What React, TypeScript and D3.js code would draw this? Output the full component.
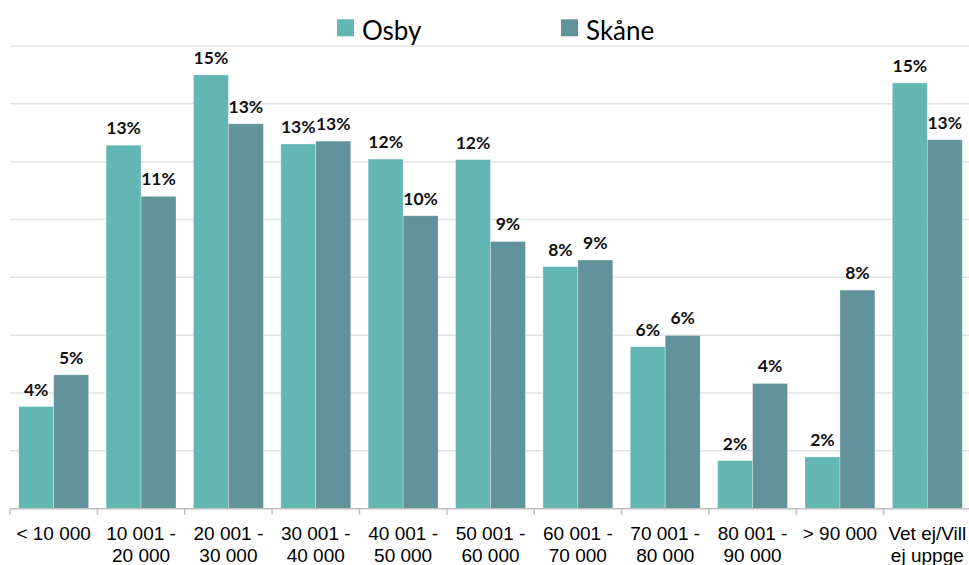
import React, { useEffect, useRef } from 'react';
import * as d3 from 'd3';

const categories = [
  '< 10 000', '10 001 -\n20 000', '20 001 -\n30 000', '30 001 -\n40 000', '40 001 -\n50 000',
  '50 001 -\n60 000', '60 001 -\n70 000', '70 001 -\n80 000', '80 001 -\n90 000', '> 90 000',
  'Vet ej/Vill\nej uppge'
];
const osby = [0.0353, 0.1257, 0.150, 0.1261, 0.1209, 0.1207, 0.0837, 0.056, 0.0166, 0.0179, 0.1472];
const skane = [0.0463, 0.108, 0.1331, 0.1271, 0.1013, 0.0924, 0.086, 0.0599, 0.0433, 0.0756, 0.1276];
const seriesNames = ['Osby', 'Skåne'];
const colors = ['#62B7B4', '#62939D'];
const gridTicks = [0.02, 0.04, 0.06, 0.08, 0.10, 0.12, 0.14, 0.16];

export default function App() {
  const ref = useRef<SVGSVGElement>(null);

  useEffect(() => {
    const svg = d3.select(ref.current);
    svg.selectAll('*').remove();

    const left = 10, right = 971, base = 508.7, top = 46;

    const x = d3.scaleBand().domain(categories).range([left, right])
      .paddingInner(0.2).paddingOuter(0.1);
    const xs = d3.scaleBand().domain(seriesNames).range([0, x.bandwidth()]);
    const y = d3.scaleLinear().domain([0, 0.16]).range([base, top]);
    const fmt = d3.format('.0%');

    // gridlines
    svg.append('g').selectAll('line').data(gridTicks).join('line')
      .attr('x1', left).attr('x2', 969)
      .attr('y1', d => y(d)).attr('y2', d => y(d))
      .attr('stroke', '#E2E2E2').attr('stroke-width', 1.5);

    const series = [osby, skane];
    series.forEach((vals, si) => {
      const g = svg.append('g');
      g.selectAll('rect').data(vals).join('rect')
        .attr('x', (d, i) => x(categories[i])! + xs(seriesNames[si])!)
        .attr('y', d => y(d))
        .attr('width', xs.bandwidth())
        .attr('height', d => base - y(d))
        .attr('fill', colors[si])
        .attr('stroke', '#ffffff').attr('stroke-opacity', 0.35).attr('stroke-width', 0.8);

      g.selectAll('text').data(vals).join('text')
        .attr('x', (d, i) => x(categories[i])! + xs(seriesNames[si])! + xs.bandwidth() / 2)
        .attr('y', d => y(d) - 11)
        .attr('text-anchor', 'middle')
        .attr('font-family', 'Lato, sans-serif')
        .attr('font-weight', 'bold')
        .attr('font-size', 17.5)
        .attr('fill', '#111')
        .text(d => fmt(d));
    });

    // axis line + ticks
    svg.append('line')
      .attr('x1', left).attr('x2', 969).attr('y1', base).attr('y2', base)
      .attr('stroke', '#BFBFBF').attr('stroke-width', 1.5);
    const step = x.step();
    svg.append('g').selectAll('line').data(d3.range(categories.length + 1)).join('line')
      .attr('x1', i => left + i * step).attr('x2', i => left + i * step)
      .attr('y1', base).attr('y2', base + 6)
      .attr('stroke', '#BFBFBF').attr('stroke-width', 1.5);

    // category labels
    const lab = svg.append('g').selectAll('text').data(categories).join('text')
      .attr('text-anchor', 'middle')
      .attr('font-family', '"Liberation Sans", Arial, sans-serif')
      .attr('font-size', 19)
      .attr('fill', '#000');
    lab.each(function (d) {
      const t = d3.select(this);
      d.split('\n').forEach((line, li) => {
        t.append('tspan')
          .attr('x', x(d)! + x.bandwidth() / 2)
          .attr('y', 540 + li * 21.8)
          .text(line);
      });
    });

    // legend
    const legX = [337, 561];
    seriesNames.forEach((n, i) => {
      svg.append('rect').attr('x', legX[i]).attr('y', 19.3)
        .attr('width', 17).attr('height', 17).attr('fill', colors[i]);
      svg.append('text').attr('x', legX[i] + 25).attr('y', 39.5)
        .attr('font-family', 'Lato, sans-serif').attr('font-size', 26)
        .attr('fill', '#000').text(n);
    });
  }, []);

  return (
    <svg ref={ref} width={969} height={565}
      style={{ position: 'absolute', left: 0, top: 0, background: '#fff' }} />
  );
}
